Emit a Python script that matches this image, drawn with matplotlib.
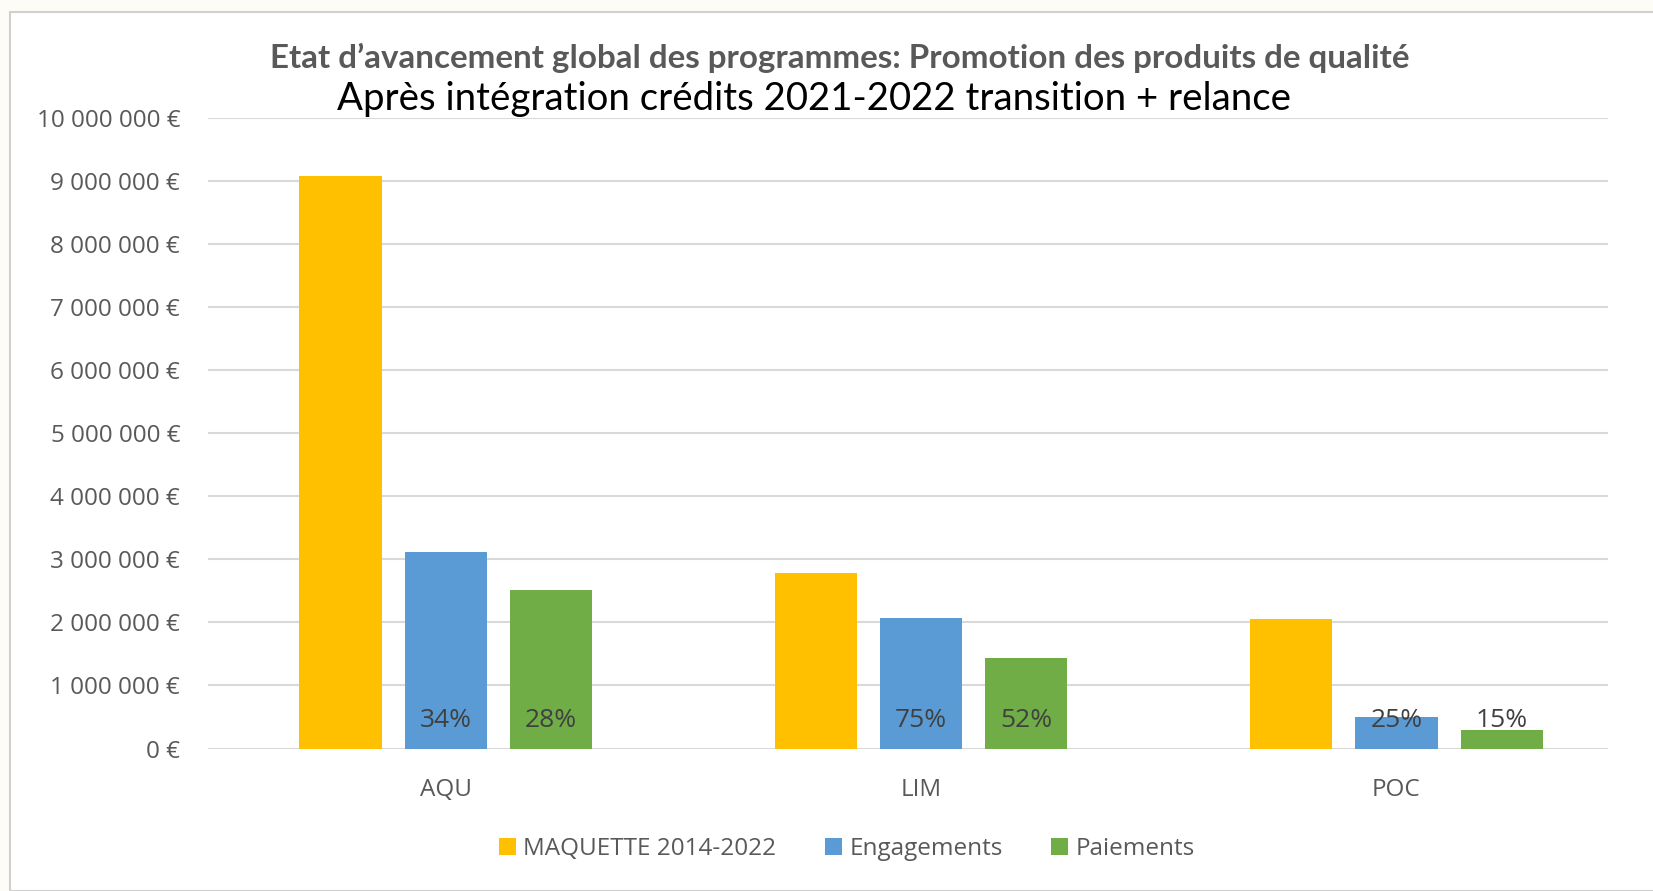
import matplotlib
matplotlib.use("Agg")
import matplotlib.pyplot as plt
from matplotlib.patches import Rectangle, Patch
from matplotlib.ticker import FuncFormatter
import numpy as np

categories = ["AQU", "LIM", "POC"]
series_names = ["MAQUETTE 2014-2022", "Engagements", "Paiements"]
maquette = [9.08e6, 2.78e6, 2.05e6]
engagements = [3.11e6, 2.07e6, 0.50e6]
paiements = [2.51e6, 1.44e6, 0.30e6]
pct_engagements = ["34%", "75%", "25%"]
pct_paiements = ["28%", "52%", "15%"]
colors = ["#FFC000", "#5B9BD5", "#70AD47"]
yticks = np.arange(0, 10_000_001, 1_000_000)

title = "Etat d\u2019avancement global des programmes: Promotion des produits de qualité"
subtitle = "Après intégration crédits 2021-2022 transition + relance"

W, H = 1653, 891
fig = plt.figure(figsize=(W / 100, H / 100), dpi=100)
fig.patch.set_facecolor("#fdfcf7")
fig.patches.append(Rectangle((10 / W, 0), 1.2, 1 - 12 / H, transform=fig.transFigure,
                             facecolor="white", edgecolor="#d0d0d0", linewidth=1.5, zorder=-10))

ax = fig.add_axes([208 / W, 1 - 748.5 / H, 1400 / W, (748.5 - 118) / H], zorder=1)
ax.set_facecolor("white")
x = np.arange(len(categories))
pitch = 0.2215
width = 0.173
for i, (vals, c, name) in enumerate(zip([maquette, engagements, paiements], colors, series_names)):
    ax.bar(x + (i - 1) * pitch, vals, width, color=c, label=name, zorder=3)

tick_font = ["Open Sans", "DejaVu Sans"]
for labels, off in [(pct_engagements, 0), (pct_paiements, 1)]:
    for xi, lab in zip(x, labels):
        ax.annotate(lab, (xi + off * pitch, 0), xytext=(0, 20.5), textcoords="offset points",
                    ha="center", va="center", fontsize=19, color="#404040",
                    family=tick_font, zorder=4)

ax.set_xlim(-0.50, 2.445)
ax.set_ylim(0, 10_000_000)
ax.set_yticks(yticks)
ax.yaxis.set_major_formatter(FuncFormatter(lambda v, p: f"{int(v):,}".replace(",", " ") + " €"))
ax.set_xticks(x)
ax.set_xticklabels(categories)
ax.tick_params(axis="both", length=0, labelsize=17.5, colors="#595959")
ax.tick_params(axis="y", pad=20)
ax.tick_params(axis="x", pad=21)
for lab in ax.get_xticklabels() + ax.get_yticklabels():
    lab.set_family(tick_font)
ax.grid(axis="y", color="#d9d9d9", linewidth=1.5, zorder=0)
for s in ax.spines.values():
    s.set_visible(False)

fig.text(840 / W, 1 - 58 / H, title, ha="center", va="center", fontsize=23.9,
         fontweight="bold", color="#595959", family=["Lato", "DejaVu Sans"])
fig.text(814 / W, 1 - 99 / H, subtitle, ha="center", va="center", fontsize=27.6,
         color="black", family=["Lato", "DejaVu Sans"])

handles = [Patch(facecolor=c, edgecolor="none") for c in colors]
fig.legend(handles, series_names, loc="center", bbox_to_anchor=(847 / W, 1 - 849 / H),
           ncol=3, frameon=False, handlelength=0.7, handleheight=0.7,
           handletextpad=0.3, columnspacing=2.0, labelcolor="#595959",
           prop={"family": tick_font, "size": 17.5})

fig.savefig("out.png", dpi=100, facecolor=fig.get_facecolor())
